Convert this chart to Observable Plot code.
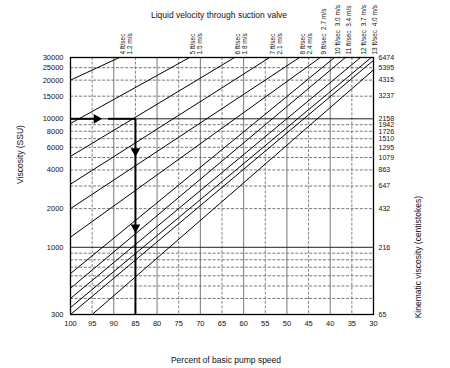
<!DOCTYPE html>
<html><head><meta charset="utf-8">
<script src="https://cdn.jsdelivr.net/npm/d3@7"></script>
<script src="https://cdn.jsdelivr.net/npm/@observablehq/plot@0.6"></script>
<style>body{margin:0;background:#fff} svg{display:block}</style>
</head><body><div id="chart"></div>
<script>
// Axis ticks
const speedTicks = [100,95,90,85,80,75,70,65,60,55,50,45,40,35,30];
const leftTicks = [300,1000,2000,4000,6000,8000,10000,15000,20000,25000,30000];
const rightTickSSU = [300,1000,2000,3000,4000,5000,6000,7000,8000,9000,10000,15000,20000,25000,30000];
const rightTickCst = [65,216,432,647,863,1079,1295,1510,1726,1942,2158,3237,4315,5395,6474];
// Grid
const solidGridSSU = [1000,10000];
const dashedGridSSU = [400,500,600,700,800,900,2000,3000,4000,5000,6000,7000,8000,9000,15000,20000,25000];
const solidGridSpeed = [90,80,70,60,50,40];
const dashedGridSpeed = [95,85,75,65,55,45,35];
// Velocity lines
const velocityFt = [4,5,6,7,8,9,10,11,12,13];
const velocityMs = [1.2,1.5,1.8,2.1,2.4,2.7,3.0,3.4,3.7,4.0];
const lineStartSpeed = [100,100,100,100,100,100,100,100,100,100,100,95];
const lineStartSSU   = [20000,9200,5100,3100,2000,1200,625,480,400,340,300,300];
const lineEndSpeed   = [88.7,72.5,62.1,54,47.1,42.3,39,36.5,33,30.5,30,30];
const lineEndSSU     = [30000,30000,30000,30000,30000,30000,30000,30000,30000,30000,28500,24000];
// Example arrow
const exampleSSU = 10000;
const exampleSpeed = 85;
const arrowHSegments = [[100,93.6],[91.3,85]];
const arrowHeadH = 94.0;
const arrowHeadsV = [5600,1430];

const lines = lineStartSpeed.map((s,i)=>({x1:s,y1:lineStartSSU[i],x2:lineEndSpeed[i],y2:lineEndSSU[i]}));
const labels = velocityFt.map((v,i)=>({
  x: lineEndSpeed[i], y: lineEndSSU[i],
  text: i < 5 ? `${v} ft/sec\n${velocityMs[i].toFixed(1)} m/s` : `${v} ft/sec  ${velocityMs[i].toFixed(1)} m/s`
}));
const rightLabels = rightTickSSU.map((d,i)=>({y:d, text:String(rightTickCst[i])}));

const font = "Liberation Sans, Arial, Helvetica, sans-serif";
const plot = Plot.plot({
  width: 450, height: 368,
  marginTop: 57, marginBottom: 54, marginLeft: 70, marginRight: 77,
  style: {fontFamily: font, fontSize: "7.5px", background: "#fff", color: "#111"},
  x: {domain: [100,30], label: null},
  y: {type: "log", domain: [300,30000], label: null, axis: null},
  marks: [
    Plot.ruleY(dashedGridSSU, {stroke: "#555", strokeWidth: 0.8, strokeDasharray: "3,1.6"}),
    Plot.ruleX(dashedGridSpeed, {stroke: "#666", strokeWidth: 0.8, strokeDasharray: "3,1.6"}),
    Plot.ruleX(solidGridSpeed, {stroke: "#777", strokeWidth: 1}),
    Plot.ruleY(solidGridSSU, {stroke: "#222", strokeWidth: 1}),
    Plot.link(lines, {x1:"x1", y1:"y1", x2:"x2", y2:"y2", stroke: "#000", strokeWidth: 1}),
    Plot.link(arrowHSegments, {x1: d=>d[0], x2: d=>d[1], y1: exampleSSU, y2: exampleSSU, stroke:"#000", strokeWidth: 2}),
    Plot.link([exampleSpeed], {x1: d=>d, x2: d=>d, y1: exampleSSU, y2: 300, stroke:"#000", strokeWidth: 2}),
    Plot.dot([arrowHeadH], {x: d=>d, y: exampleSSU, symbol: "triangle", rotate: 90, r: 3.6, fill: "#000", stroke: null}),
    Plot.dot(arrowHeadsV, {x: exampleSpeed, y: d=>d, symbol: "triangle", rotate: 180, r: 3.6, fill: "#000", stroke: null}),
    Plot.frame({stroke: "#000", strokeWidth: 1.3}),
    Plot.axisX(speedTicks, {anchor: "bottom", tickSize: 0, tickPadding: 6, fontSize: 7.5, label: null, tickFormat: d=>String(d)}),
    Plot.text(leftTicks, {y: d=>d, text: d=>String(d), frameAnchor: "left", textAnchor: "end", dx: -7, fontSize: 7.5}),
    Plot.text(rightLabels, {y: "y", text: "text", frameAnchor: "right", textAnchor: "start", dx: 5, fontSize: 7}),
    Plot.text(labels, {x: "x", y: "y", text: "text", rotate: -90, textAnchor: "start", lineAnchor: "top", lineHeight: 1.05, dx: 1, dy: -3, fontSize: 6.5}),
    Plot.text(["Liquid velocity through suction valve"], {frameAnchor: "top", dx: -3, dy: -46, fontSize: 8.5}),
    Plot.text(["Percent of basic pump speed"], {frameAnchor: "bottom", dx: 4, dy: 48, fontSize: 8.5}),
    Plot.text(["Viscosity (SSU)"], {frameAnchor: "left", rotate: -90, dx: -50, dy: -2, fontSize: 8.5}),
    Plot.text(["Kinematic viscosity (centistokes)"], {frameAnchor: "right", rotate: -90, dx: 45, dy: 10, fontSize: 8.5})
  ]
});
document.getElementById("chart").appendChild(plot);
</script>
</body></html>
